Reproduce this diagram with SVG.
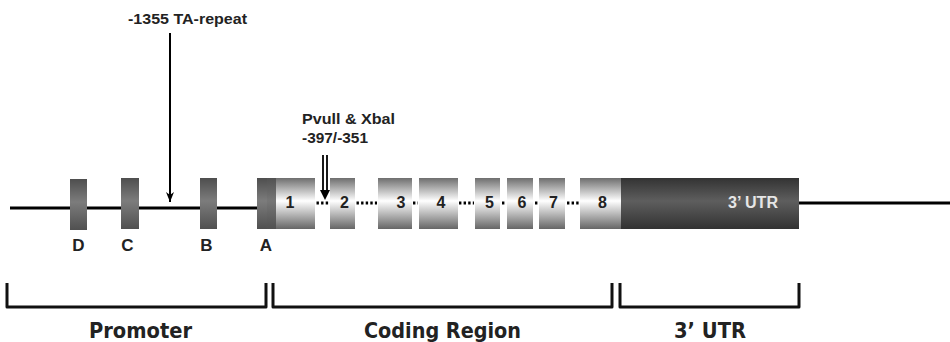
<svg xmlns="http://www.w3.org/2000/svg" width="950" height="342" viewBox="0 0 950 342">
  <defs>
    <linearGradient id="gExon" x1="0" y1="0" x2="0" y2="1">
      <stop offset="0" stop-color="#6e6e6e"/>
      <stop offset="0.45" stop-color="#ffffff"/>
      <stop offset="1" stop-color="#666666"/>
    </linearGradient>
    <linearGradient id="gProm" x1="0" y1="0" x2="0" y2="1">
      <stop offset="0" stop-color="#4e4e4e"/>
      <stop offset="0.45" stop-color="#7c7c7c"/>
      <stop offset="1" stop-color="#505050"/>
    </linearGradient>
    <linearGradient id="gDark" x1="0" y1="0" x2="0" y2="1">
      <stop offset="0" stop-color="#333333"/>
      <stop offset="0.45" stop-color="#5e5e5e"/>
      <stop offset="1" stop-color="#323232"/>
    </linearGradient>
    <marker id="head" viewBox="0 0 10 10" refX="10" refY="5" markerWidth="10" markerHeight="10" markerUnits="userSpaceOnUse" orient="auto">
      <path d="M0,1 L10,5 L0,9 L3,5 Z" fill="#000"/>
    </marker>
  </defs>
  <style>
    .lbl { font-family: "Liberation Sans", Arial, sans-serif; font-weight: bold; fill: #222; }
    .num { font-family: "Liberation Sans", Arial, sans-serif; font-weight: bold; font-size: 16px; fill: #222; text-anchor: middle; }
    .site { font-family: "Liberation Sans", Arial, sans-serif; font-weight: bold; font-size: 17px; fill: #222; text-anchor: middle; }
    .reg { font-family: "DejaVu Sans Condensed", "DejaVu Sans", sans-serif; font-weight: bold; font-size: 20.5px; fill: #222; }
    .line { stroke: #000; stroke-width: 3; fill: none; }
    .dots { stroke: #000; stroke-width: 3; stroke-dasharray: 2.4 2.2; fill: none; }
    .brk { stroke: #111; stroke-width: 3; fill: none; stroke-linejoin: round; }
  </style>

  <!-- backbone and annotation connectors -->
  <g id="connectors">
    <line class="line" x1="10" y1="208" x2="258" y2="208"/>
    <line class="line" x1="798" y1="203" x2="950" y2="203"/>
    <path class="dots" d="M316.5,203 H329"/>
    <path class="dots" d="M356.5,203 H377"/>
    <path class="dots" d="M413,203 H418"/>
    <path class="dots" d="M459,203 H474"/>
    <path class="dots" d="M502,203 H505"/>
    <path class="dots" d="M535,203 H538"/>
    <path class="dots" d="M567,203 H579"/>
    <line x1="170" y1="33" x2="170" y2="202" stroke="#000" stroke-width="2" marker-end="url(#head)"/>
    <line x1="323" y1="155" x2="323" y2="192" stroke="#000" stroke-width="1.8"/>
    <line x1="327" y1="155" x2="327" y2="192" stroke="#000" stroke-width="1.8"/>
    <path d="M320,190 L330,190 L325,200 Z" fill="#000"/>
  </g>

  <g id="ta-label">
    <text class="lbl" x="128" y="24" font-size="15" textLength="119" lengthAdjust="spacingAndGlyphs">-1355 TA-repeat</text>
  </g>
  <g id="pvu-label">
    <text class="lbl" x="302" y="124" font-size="15" textLength="93" lengthAdjust="spacingAndGlyphs">Pvull &amp; Xbal</text>
    <text class="lbl" x="302" y="143" font-size="15" textLength="66" lengthAdjust="spacingAndGlyphs">-397/-351</text>
  </g>

  <!-- promoter elements -->
  <g id="box-D">
    <rect x="70" y="179" width="17" height="51" fill="url(#gProm)"/>
    <text class="site" x="78.5" y="251">D</text>
  </g>
  <g id="box-C">
    <rect x="121" y="178" width="18" height="51" fill="url(#gProm)"/>
    <text class="site" x="127.5" y="251">C</text>
  </g>
  <g id="box-B">
    <rect x="200" y="178" width="17" height="51" fill="url(#gProm)"/>
    <text class="site" x="206.5" y="251">B</text>
  </g>
  <g id="box-A">
    <rect x="257" y="178" width="10" height="51" fill="url(#gProm)"/>
    <rect x="267" y="178" width="9" height="51" fill="url(#gDark)" opacity="0.85"/>
    <text class="site" x="266" y="251">A</text>
  </g>

  <!-- coding exons -->
  <g id="exon-1">
    <rect x="276" y="178" width="39" height="51" fill="url(#gExon)"/>
    <text class="num" x="290" y="208">1</text>
  </g>
  <g id="exon-2">
    <rect x="330" y="178" width="25" height="51" fill="url(#gExon)"/>
    <text class="num" x="344.5" y="208">2</text>
  </g>
  <g id="exon-3">
    <rect x="378" y="178" width="34" height="51" fill="url(#gExon)"/>
    <text class="num" x="401" y="208">3</text>
  </g>
  <g id="exon-4">
    <rect x="419" y="178" width="39" height="51" fill="url(#gExon)"/>
    <text class="num" x="441" y="208">4</text>
  </g>
  <g id="exon-5">
    <rect x="475" y="178" width="25" height="51" fill="url(#gExon)"/>
    <text class="num" x="489.5" y="208">5</text>
  </g>
  <g id="exon-6">
    <rect x="507" y="178" width="26" height="51" fill="url(#gExon)"/>
    <text class="num" x="522" y="208">6</text>
  </g>
  <g id="exon-7">
    <rect x="539" y="178" width="26" height="51" fill="url(#gExon)"/>
    <text class="num" x="553.5" y="208">7</text>
  </g>
  <g id="exon-8">
    <rect x="580" y="178" width="41" height="51" fill="url(#gExon)"/>
    <text class="num" x="602.5" y="208">8</text>
  </g>
  <g id="utr">
    <rect x="621" y="178" width="178" height="51" fill="url(#gDark)"/>
    <text x="728" y="208" font-family="Liberation Sans, Arial, sans-serif" font-weight="bold" font-size="16" fill="#e6e6e6" textLength="50" lengthAdjust="spacingAndGlyphs">3’ UTR</text>
  </g>

  <!-- region brackets -->
  <g id="region-promoter">
    <path class="brk" d="M7,283 V307 H266 V283"/>
    <text class="reg" x="89" y="338" textLength="103" lengthAdjust="spacingAndGlyphs">Promoter</text>
  </g>
  <g id="region-coding">
    <path class="brk" d="M273,283 V307 H612 V283"/>
    <text class="reg" x="364" y="338" textLength="157" lengthAdjust="spacingAndGlyphs">Coding Region</text>
  </g>
  <g id="region-utr">
    <path class="brk" d="M620,283 V307 H799 V283"/>
    <text class="reg" x="674" y="338" textLength="72" lengthAdjust="spacingAndGlyphs">3’ UTR</text>
  </g>
</svg>
